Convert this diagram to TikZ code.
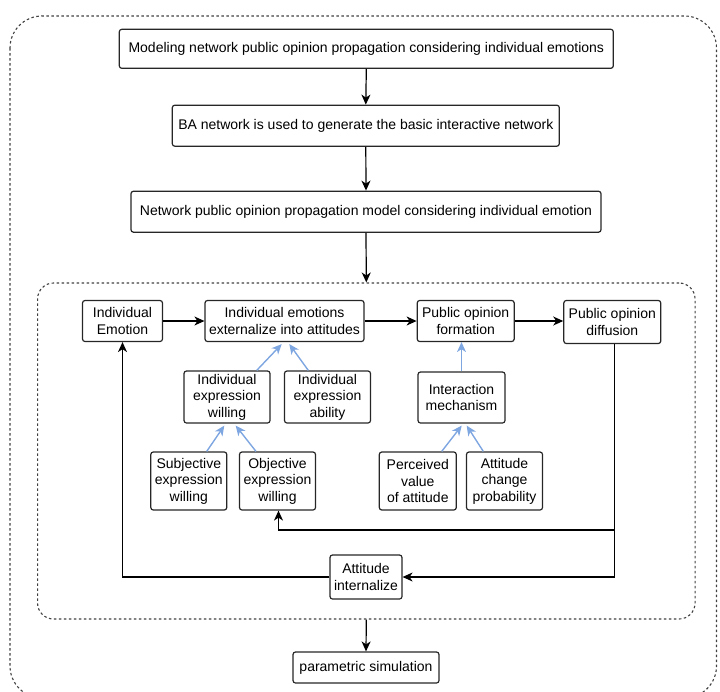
\documentclass[tikz,border=0pt]{standalone}
\usepackage{fontspec}
\setmainfont{Liberation Sans}
\usetikzlibrary{arrows.meta,calc}
\definecolor{bluearr}{HTML}{7EA6E0}
\begin{document}
\begin{tikzpicture}[x=1pt,y=-1pt,
  box/.style={draw=black!85,line width=1.2pt,rounded corners=2.5pt,inner sep=0pt,align=center,
    font=\fontsize{14}{16.5}\selectfont},
  dashbox/.style={draw=black!75,line width=1.1pt,dash pattern=on 2.5pt off 2.5pt},
  arr/.style={draw=black,line width=1.2pt,-{Stealth[length=10pt,width=9pt,inset=3pt]}},
  barr/.style={draw=bluearr,line width=1.4pt,-{Stealth[length=10pt,width=9pt,inset=3pt]}}]
\useasboundingbox (0,0) rectangle (720,691);
\clip (0,0) rectangle (720,691);
% outer dashed frame
\draw[dashbox,rounded corners=32pt] (10,16) rectangle (716.5,698);
% inner dashed frame
\node[dashbox,rounded corners=16pt,minimum width=657.5pt,minimum height=336pt,inner sep=0pt] (inner) at (366.3,451) {};
% top chain
\node[box,minimum width=494pt,minimum height=39pt] (m1) at (366.3,48.8) {Modeling network public opinion propagation considering individual emotions};
\node[box,minimum width=387pt,minimum height=41pt] (m2) at (365.8,125.7) {BA network is used to generate the basic interactive network};
\node[box,minimum width=470pt,minimum height=41pt] (m3) at (366,211.7) {Network public opinion propagation model considering individual emotion};
% inner nodes
\node[box,minimum width=80pt,minimum height=41pt] (emo) at (122.5,321) {Individual\\Emotion};
\node[box,minimum width=159pt,minimum height=41pt] (ext) at (284.5,321) {Individual emotions\\externalize into attitudes};
\node[box,minimum width=97pt,minimum height=41pt] (form) at (465.7,321) {Public opinion\\formation};
\node[box,minimum width=97pt,minimum height=43pt] (diff) at (612.3,322) {Public opinion\\diffusion};
\node[box,minimum width=86pt,minimum height=52pt] (will) at (227,397) {Individual\\expression\\willing};
\node[box,minimum width=86pt,minimum height=52pt] (abil) at (327.5,397) {Individual\\expression\\ability};
\node[box,minimum width=87pt,minimum height=51pt] (inter) at (461.5,397.5) {Interaction\\mechanism};
\node[box,minimum width=76pt,minimum height=58pt] (subj) at (188.8,481) {Subjective\\expression\\willing};
\node[box,minimum width=76pt,minimum height=58pt] (obj) at (277.5,481) {Objective\\expression\\willing};
\node[box,minimum width=77pt,minimum height=58pt] (perc) at (417.8,481) {Perceived\\value\\of attitude};
\node[box,minimum width=76pt,minimum height=58pt] (chg) at (504.5,481) {Attitude\\change\\probability};
\node[box,minimum width=72pt,minimum height=44pt] (intern) at (366,577) {Attitude\\internalize};
\node[box,minimum width=146pt,minimum height=31pt] (param) at (366,667.5) {parametric simulation};
\coordinate (fb) at (0,530);
% black arrows
\draw[arr] (m1.south) -- (m2.north);
\draw[arr] (m2.south) -- (m3.north);
\draw[arr] (m3.south) -- (inner.north);
\draw[arr] (emo.east) -- (ext.west);
\draw[arr] (ext.east) -- (form.west);
\draw[arr] (form.east) -- (form.east -| diff.west);
\draw[arr] ([xshift=2.5pt]diff.south) |- (intern.east);
\draw[arr] ([xshift=2.5pt]diff.south |- fb) -| ([xshift=1pt]obj.south);
\draw[arr] (intern.west) -| (emo.south);
\draw[arr] (inner.south) -- (param.north);
% blue arrows
\draw[barr] ([xshift=29.7pt]will.north) -- ([xshift=-2.8pt,yshift=-2pt]ext.south);
\draw[barr] ([xshift=-19.2pt]abil.north) -- ([xshift=4.8pt,yshift=-2pt]ext.south);
\draw[barr] ([xshift=17.9pt]subj.north) -- ([xshift=-2.7pt,yshift=-2pt]will.south);
\draw[barr] ([xshift=-21.5pt]obj.north) -- ([xshift=8.7pt,yshift=-2pt]will.south);
\draw[barr] (inter.north) -- (inter.north |- form.south);
\draw[barr] ([xshift=23.9pt]perc.north) -- ([xshift=0.2pt,yshift=-2pt]inter.south);
\draw[barr] ([xshift=-21.2pt]chg.north) -- ([xshift=5.2pt,yshift=-2pt]inter.south);
\end{tikzpicture}
\end{document}
